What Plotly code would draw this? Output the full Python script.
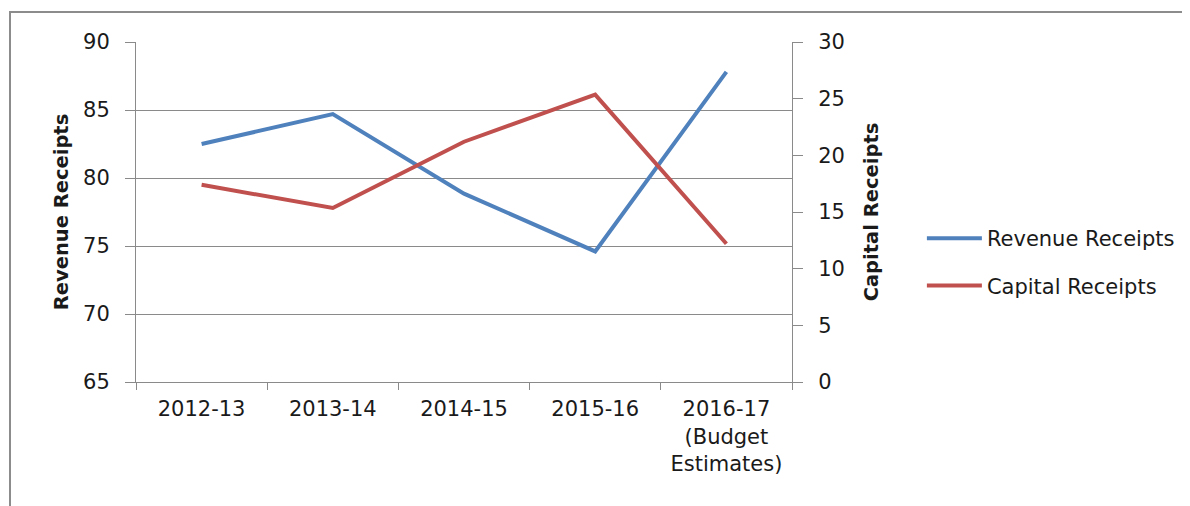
import plotly.graph_objects as go

categories = ["2012-13", "2013-14", "2014-15", "2015-16", "2016-17<br>(Budget<br>Estimates)"]
revenue_receipts = [82.5, 84.7, 78.85, 74.6, 87.8]
capital_receipts = [17.4, 15.35, 21.2, 25.35, 12.2]

left_ticks = [65, 70, 75, 80, 85, 90]
right_ticks = [0, 5, 10, 15, 20, 25, 30]

FONT = "'DejaVu Sans', sans-serif"
GRID = "#8a8a8a"

fig = go.Figure()
fig.add_trace(go.Scatter(x=categories, y=revenue_receipts, name="Revenue Receipts",
                         mode="lines", line=dict(color="#4F81BD", width=4),
                         legendgroup="a", yaxis="y"))
fig.add_trace(go.Scatter(x=categories, y=capital_receipts, name="Capital Receipts",
                         mode="lines", line=dict(color="#C0504D", width=4),
                         legendgroup="b", yaxis="y2"))

fig.update_layout(
    width=1190, height=506,
    margin=dict(l=128, r=406, t=34, b=132, autoexpand=False),
    paper_bgcolor="white", plot_bgcolor="white",
    font=dict(family=FONT, size=21, color="#1a1a1a"),
    showlegend=True,
    legend=dict(x=1.198, y=0.353, xanchor="left", yanchor="middle",
                font=dict(size=21), itemwidth=55, tracegroupgap=17,
                bgcolor="rgba(0,0,0,0)"),
    xaxis=dict(type="category", tickson="boundaries", showgrid=False,
               showline=True, linecolor=GRID, linewidth=1,
               ticks="outside", ticklen=7, tickcolor=GRID, ticklabelstandoff=8,
               range=[-0.5, 4.5], tickfont=dict(size=21)),
    yaxis=dict(range=[65, 90], tickvals=left_ticks, showgrid=True, gridcolor=GRID,
               gridwidth=1, showline=True, linecolor=GRID, linewidth=1,
               ticks="outside", ticklen=10, tickcolor=GRID, ticklabelstandoff=11,
               zeroline=False, tickfont=dict(size=21),
               title=dict(text="<b>Revenue Receipts</b>", standoff=9,
                          font=dict(size=19.5))),
    yaxis2=dict(range=[0, 30], tickvals=right_ticks, overlaying="y", side="right",
                showgrid=False, showline=True, linecolor=GRID, linewidth=1,
                ticks="outside", ticklen=10, tickcolor=GRID, ticklabelstandoff=11,
                zeroline=False, tickfont=dict(size=21),
                title=dict(text="<b>Capital Receipts</b>", standoff=20,
                           font=dict(size=19.5))),
    shapes=[dict(type="rect", xref="paper", yref="paper",
                 x0=(2 - 128) / 656, x1=(1200 - 128) / 656,
                 y0=(350 - 520) / 340, y1=1 + 30 / 340,
                 line=dict(color="#8c8c8c", width=2), fillcolor="rgba(0,0,0,0)",
                 layer="below")],
)

fig.write_html("out.html")
